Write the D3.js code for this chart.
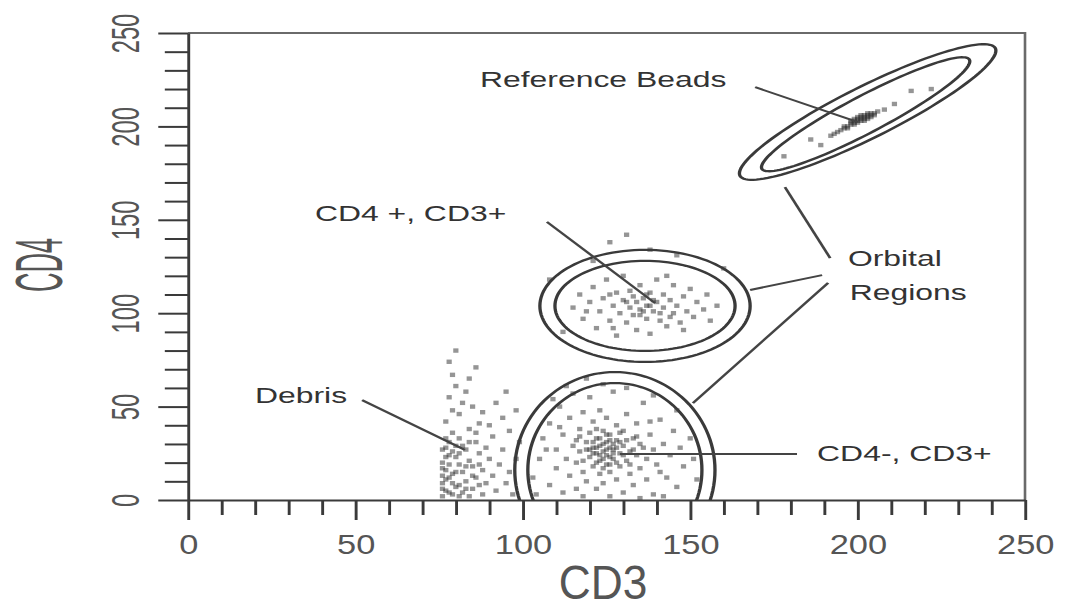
<!DOCTYPE html>
<html>
<head>
<meta charset="utf-8">
<script src="https://cdn.jsdelivr.net/npm/d3@7"></script>
<style>
  html, body { margin: 0; padding: 0; background: #fff; overflow: hidden; }
  svg { display: block; }
</style>
</head>
<body>
<svg id="chart" width="1069" height="608"></svg>
<script>
// ---- data -------------------------------------------------------------
const majorTicks = [0, 50, 100, 150, 200, 250];
const minorTicks = [10, 20, 30, 40, 60, 70, 80, 90, 110, 120, 130, 140,
                    160, 170, 180, 190, 210, 220, 230, 240];

// events in the debris region (CD3, CD4)
const debrisEvents = [
  [76,2],[77,5],[76,9],[78,12],[77,16],[76,20],[78,24],[77,28],[79,3],[80,7],
  [79,14],[81,19],[80,23],[78,31],[79,36],[82,4],[83,10],[82,15],[84,21],[83,27],
  [81,33],[85,6],[86,12],[85,18],[87,25],[84,38],[86,31],[88,3],[89,9],[88,16],
  [90,22],[89,28],[87,41],[91,13],[92,5],[93,19],[91,34],[94,27],[95,9],[96,15],
  [94,44],[97,3],[98,22],[96,37],[77,42],[79,48],[78,55],[80,61],[79,67],[78,74],
  [80,80],[82,52],[83,58],[81,46],[85,50],[88,47],[92,52],[84,65],[86,71],[95,58],
  [98,48],[99,31],[76,13],[77,33],[79,26],[81,8],[82,29],[84,2],[86,36],[90,40],
  [76,6],[77,11],[76,17],[77,23],[76,27],[78,4],[78,19],[79,9],[80,15],[80,29],
  [81,2],[81,25],[83,18],[83,6],[85,13],[84,31],[87,8],[87,19]
];

// CD4-, CD3+ population
const cd4NegEvents = [
  [103,12],[105,22],[106,33],[108,8],[108,41],[110,17],[110,27],[111,50],[112,4],[112,35],
  [113,22],[114,13],[114,44],[115,29],[115,57],[116,6],[116,20],[117,38],[117,26],[118,15],
  [118,47],[119,31],[119,10],[120,23],[120,36],[120,55],[121,18],[121,28],[121,42],[122,6],
  [122,25],[122,33],[123,14],[123,29],[123,21],[123,48],[124,26],[124,37],[124,9],[125,31],
  [125,19],[125,24],[125,44],[126,28],[126,15],[126,35],[127,22],[127,27],[127,58],[128,11],
  [128,32],[128,40],[129,25],[129,18],[130,29],[130,4],[130,37],[131,21],[131,46],[132,26],
  [132,14],[133,33],[133,8],[134,24],[134,41],[135,17],[135,30],[136,52],[137,22],[137,11],
  [138,35],[139,27],[139,3],[140,19],[141,43],[142,30],[143,12],[144,24],[145,37],[146,7],
  [147,28],[148,18],[150,33],[151,22],[107,27],[109,54],[113,61],[119,65],[124,62],[131,60],
  [139,56],[146,48],[152,11],[104,3],[118,2],[126,2],[135,1],[142,2],[111,39],[116,32],
  [122,38],[128,20],[124,17],[121,31],[126,23],[123,33],[127,30],[129,36],[120,27],[118,21],
  [132,19],[134,34],[136,28],[138,42],[141,15],
  [122,28],[124,30],[125,27],[126,32],[123,24],[127,25],[128,28],[124,22],[121,25],[129,31],
  [125,35],[122,20],[126,19],[130,24],[119,27],[117,34],[133,27],[131,32]
];

// CD4+, CD3+ population
const cd4PosEvents = [
  [115,103],[117,110],[118,97],[120,106],[121,114],[122,92],[123,101],[124,108],[125,118],[126,96],
  [127,104],[128,111],[128,88],[129,100],[130,107],[130,120],[131,95],[132,103],[132,112],[133,99],
  [134,106],[134,91],[135,115],[135,102],[136,108],[137,97],[137,104],[138,111],[138,89],[139,101],
  [140,106],[140,118],[141,96],[142,103],[142,110],[143,93],[144,107],[145,100],[145,115],[146,104],
  [147,95],[148,109],[149,101],[150,113],[151,98],[152,106],[154,102],[155,110],[156,96],[158,104],
  [136,101],[138,104],[139,107],[135,99],[133,109],[141,100],[137,110],[131,106],[144,98],[126,110],
  [119,101],[127,92],[143,120],[148,91],
  [126,138],[131,142],[138,134],[121,128],[146,131],[112,90],[108,118],[160,124]
];

// reference bead events
const beadEvents = [
  [192,195],[193,196],[194,197],[195,198],[196,199],[196,200],[197,200],[198,201],[198,202],[199,202],
  [199,203],[200,203],[200,204],[201,204],[201,205],[202,205],[202,206],[203,206],[203,205],[204,207],
  [200,202],[201,203],[202,204],[199,201],[203,207],[205,207],[197,199],[208,209],[211,212],[216,219],
  [186,193],[189,190],[178,184],[222,220],
  [200,205],[201,206],[202,203],[203,204],[204,205],[204,206],[199,204],[198,203],[205,206],[206,208]
];

// orbital regions: [centre CD3, centre CD4, semi-axis a, semi-axis b, angle in degrees]
const beadRegions  = [[203.0, 207.7, 51.5, 11.5, 43.3], [202.4, 206.5, 42.8, 8.2, 44.4]];
const cd4PosRegions = [[136.5, 103.9, 31.4, 30.0, 0], [136.5, 103.9, 26.9, 24.1, 0]];
const cd4NegRegions = [[127.5, 16.0, 29.9, 52.5, 0], [127.5, 16.0, 26.0, 46.6, 0]];

// annotation labels: text lines, anchor (CD3, CD4) of the first line
const labelTexts   = [["Reference Beads"], ["CD4 +, CD3+"], ["Debris"], ["CD4-, CD3+"], ["Orbital", "Regions"]];
const labelAnchors = [[87.2, 225.4], [37.9, 153.6], [20.0, 56.2], [187.9, 25.2], [197.1, 129.5]];

// leader lines: from (CD3, CD4) to (CD3, CD4)
const leaders = [
  [[169.4, 221.0], [200.1, 202.3]],
  [[107.2, 148.9], [139.5, 105.4]],
  [[52.0, 53.5],   [82.7, 26.8]],
  [[181.9, 24.6],  [129.0, 24.6]],
  [[191.8, 129.5], [178.3, 167.5]],
  [[189.4, 120.4], [167.9, 112.4]],
  [[191.2, 116.2], [150.8, 51.9]]
];

// ---- layout -------------------------------------------------------------
// The drawing is laid out on a 737 x 608 canvas and stretched to the window width.
const W = 737.24, H = 608;
const svg = d3.select("#chart")
  .attr("viewBox", `0 0 ${W} ${H}`)
  .attr("preserveAspectRatio", "none");

const x = d3.scaleLinear().domain([0, 250]).range([129.66, 706.9]);
const y = d3.scaleLinear().domain([0, 250]).range([500, 33]);

const ink = "#3a3a3a";

// plot frame (top and right edges)
svg.append("path")
  .attr("d", `M${x(0)},${y(250)}H${x(250)}V${y(0)}`)
  .attr("fill", "none")
  .attr("stroke", "#6a6a6a")
  .attr("stroke-width", 1.8);

svg.append("clipPath").attr("id", "plotClip")
  .append("rect")
  .attr("x", x(0)).attr("y", y(250))
  .attr("width", x(250) - x(0)).attr("height", y(0) - y(250));

const plot = svg.append("g").attr("clip-path", "url(#plotClip)");

// events
const allEvents = [].concat(debrisEvents, cd4NegEvents, cd4PosEvents, beadEvents);
plot.append("g")
  .selectAll("rect")
  .data(allEvents)
  .join("rect")
  .attr("x", d => x(d[0]) - 1.8)
  .attr("y", d => y(d[1]) - 2.2)
  .attr("width", 3.6)
  .attr("height", 4.4)
  .attr("fill", "#333")
  .attr("fill-opacity", 0.52);

// orbital region contours
const angles = d3.range(0, 360, 3);
const contourLine = d3.line().curve(d3.curveLinearClosed);
function regionPath(r) {
  const [cx, cy, a, b, deg] = r;
  const t = deg * Math.PI / 180;
  return contourLine(angles.map(g => {
    const p = g * Math.PI / 180;
    const u = a * Math.cos(p), v = b * Math.sin(p);
    return [x(cx + u * Math.cos(t) - v * Math.sin(t)), y(cy + u * Math.sin(t) + v * Math.cos(t))];
  }));
}
plot.append("g")
  .selectAll("path")
  .data([].concat(beadRegions, cd4PosRegions, cd4NegRegions))
  .join("path")
  .attr("d", regionPath)
  .attr("fill", "none")
  .attr("stroke", ink)
  .attr("stroke-width", 2.3);

// leader lines
svg.append("g")
  .selectAll("line")
  .data(leaders)
  .join("line")
  .attr("x1", d => x(d[0][0])).attr("y1", d => y(d[0][1]))
  .attr("x2", d => x(d[1][0])).attr("y2", d => y(d[1][1]))
  .attr("stroke", "#444")
  .attr("stroke-width", 2);

// annotation labels
const labels = svg.append("g")
  .attr("font-family", "'Liberation Sans', Arial, sans-serif")
  .attr("font-size", 22)
  .attr("fill", "#333");
labelTexts.forEach((lines, i) => {
  const [lx, ly] = labelAnchors[i];
  const t = labels.append("text")
    .attr("x", x(lx)).attr("y", y(ly)).attr("dy", "0.36em");
  lines.forEach((s, j) => {
    t.append("tspan").attr("x", x(lx) + (j ? 1.2 : 0)).attr("dy", j ? 34 : null).text(s);
  });
});

// ---- axes ---------------------------------------------------------------
const allTicks = majorTicks.concat(minorTicks).sort((a, b) => a - b);
const fmt = d => majorTicks.includes(d) ? String(d) : "";
const digitWidth = 13.2;

const xAxis = svg.append("g")
  .attr("transform", `translate(0,${y(0)})`)
  .call(d3.axisBottom(x).tickValues(allTicks).tickFormat(fmt).tickSize(15).tickSizeOuter(0));
xAxis.select(".domain").attr("stroke", ink).attr("stroke-width", 2);
xAxis.selectAll(".tick line")
  .attr("stroke", ink).attr("stroke-width", 2)
  .attr("y2", d => majorTicks.includes(d) ? 20 : 15);
xAxis.selectAll(".tick text")
  .attr("y", 35).attr("dy", "0.71em")
  .attr("font-family", "'Liberation Sans Narrow', 'Arial Narrow', 'Liberation Sans', sans-serif")
  .attr("font-size", 27)
  .attr("fill", "#555")
  .attr("textLength", d => majorTicks.includes(d) ? String(d).length * digitWidth : null)
  .attr("lengthAdjust", "spacingAndGlyphs");

const yAxis = svg.append("g")
  .attr("transform", `translate(${x(0)},0)`)
  .call(d3.axisLeft(y).tickValues(allTicks).tickFormat(fmt).tickSize(16).tickSizeOuter(0));
yAxis.select(".domain").attr("stroke", ink).attr("stroke-width", 2);
yAxis.selectAll(".tick line")
  .attr("stroke", ink).attr("stroke-width", 2)
  .attr("x2", d => majorTicks.includes(d) ? -20.5 : -16);
yAxis.selectAll(".tick text")
  .attr("x", null).attr("dy", null)
  .attr("text-anchor", "middle")
  .attr("transform", "translate(-33.5,0) rotate(-90)")
  .attr("font-family", "'Liberation Sans Narrow', 'Arial Narrow', 'Liberation Sans', sans-serif")
  .attr("font-size", 27)
  .attr("fill", "#555")
  .attr("textLength", d => majorTicks.includes(d) ? String(d).length * digitWidth : null)
  .attr("lengthAdjust", "spacingAndGlyphs");

// axis titles
svg.append("text")
  .attr("x", 415.9).attr("y", 599)
  .attr("text-anchor", "middle")
  .attr("font-family", "'Liberation Sans', Arial, sans-serif")
  .attr("font-size", 48)
  .attr("fill", "#555")
  .attr("textLength", 61)
  .attr("lengthAdjust", "spacingAndGlyphs")
  .text("CD3");

svg.append("text")
  .attr("transform", "translate(42.8,265) rotate(-90)")
  .attr("text-anchor", "middle")
  .attr("font-family", "'Liberation Sans', Arial, sans-serif")
  .attr("font-size", 46)
  .attr("fill", "#555")
  .attr("textLength", 54)
  .attr("lengthAdjust", "spacingAndGlyphs")
  .text("CD4");
</script>
</body>
</html>
